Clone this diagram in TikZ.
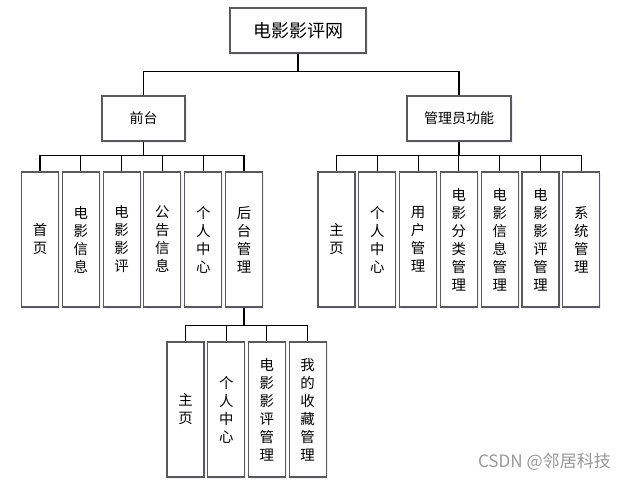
\documentclass[tikz,border=0pt]{standalone}
\usepackage{fontspec}
\newfontfamily\cjk{Noto Sans CJK SC}
\usetikzlibrary{shadows}
\begin{document}
\begin{tikzpicture}[x=0.75pt,y=-0.75pt,
  box/.style={draw=black!65, line width=0.8pt, fill=white, inner sep=0pt,
    drop shadow={fill=blue!8, shadow xshift=1.2pt, shadow yshift=-1.2pt, opacity=0.8}},
  hbox/.style={box, font=\cjk\fontsize{10.5}{12}\selectfont},
  vbox/.style={box, minimum width=27.75pt, minimum height=101.25pt, align=center,
    font=\cjk\fontsize{10.8}{13.5}\selectfont},
  link/.style={draw=black, line width=0.8pt}]
\useasboundingbox (0,0) rectangle (628,480);
\fill[white] (0,0) rectangle (628,480);
% top level
\node[box, minimum width=102pt, minimum height=33.75pt, font=\cjk\fontsize{13.5}{15}\selectfont] (root) at (298,30.5) {电影影评网};
\node[hbox, minimum width=62.25pt, minimum height=33.75pt] (qt) at (143.5,118.5) {前台};
\node[hbox, minimum width=78pt, minimum height=33.75pt] (gl) at (459,118.5) {管理员功能};
% front children
\node[vbox] (l1) at (40,239.5) {首\\页};
\node[vbox] (l2) at (80.8,239.5) {电\\影\\信\\息};
\node[vbox] (l3) at (121.6,239.5) {电\\影\\影\\评};
\node[vbox] (l4) at (162.4,239.5) {公\\告\\信\\息};
\node[vbox] (l5) at (203.2,239.5) {个\\人\\中\\心};
\node[vbox] (l6) at (244,239.5) {后\\台\\管\\理};
% admin children
\node[vbox] (r1) at (336.5,239.5) {主\\页};
\node[vbox] (r2) at (377.3,239.5) {个\\人\\中\\心};
\node[vbox] (r3) at (418.1,239.5) {用\\户\\管\\理};
\node[vbox] (r4) at (458.9,239.5) {电\\影\\分\\类\\管\\理};
\node[vbox] (r5) at (499.7,239.5) {电\\影\\信\\息\\管\\理};
\node[vbox] (r6) at (540.5,239.5) {电\\影\\影\\评\\管\\理};
\node[vbox] (r7) at (581.3,239.5) {系\\统\\管\\理};
% back-end children
\node[vbox] (b1) at (185.5,409.5) {主\\页};
\node[vbox] (b2) at (226.2,409.5) {个\\人\\中\\心};
\node[vbox] (b3) at (266.9,409.5) {电\\影\\影\\评\\管\\理};
\node[vbox] (b4) at (307.6,409.5) {我\\的\\收\\藏\\管\\理};
% connectors
\draw[link] (root.south) -- ++(0,18) -| (qt.north);
\draw[link] (root.south) -- ++(0,18) -| (gl.north);
\foreach \i in {1,...,6} \draw[link] (qt.south) -- ++(0,13.5) -| (l\i.north);
\foreach \i in {1,...,7} \draw[link] (gl.south) -- ++(0,13.5) -| (r\i.north);
\foreach \i in {1,...,4} \draw[link] (l6.south) -- ++(0,17.5) -| (b\i.north);
% watermark
\node[font=\cjk\fontsize{12.8}{14}\selectfont, text=black!40, inner sep=0pt] (wm) at (544.5,461.5) {CSDN @邻居科技};
\end{tikzpicture}
\end{document}
